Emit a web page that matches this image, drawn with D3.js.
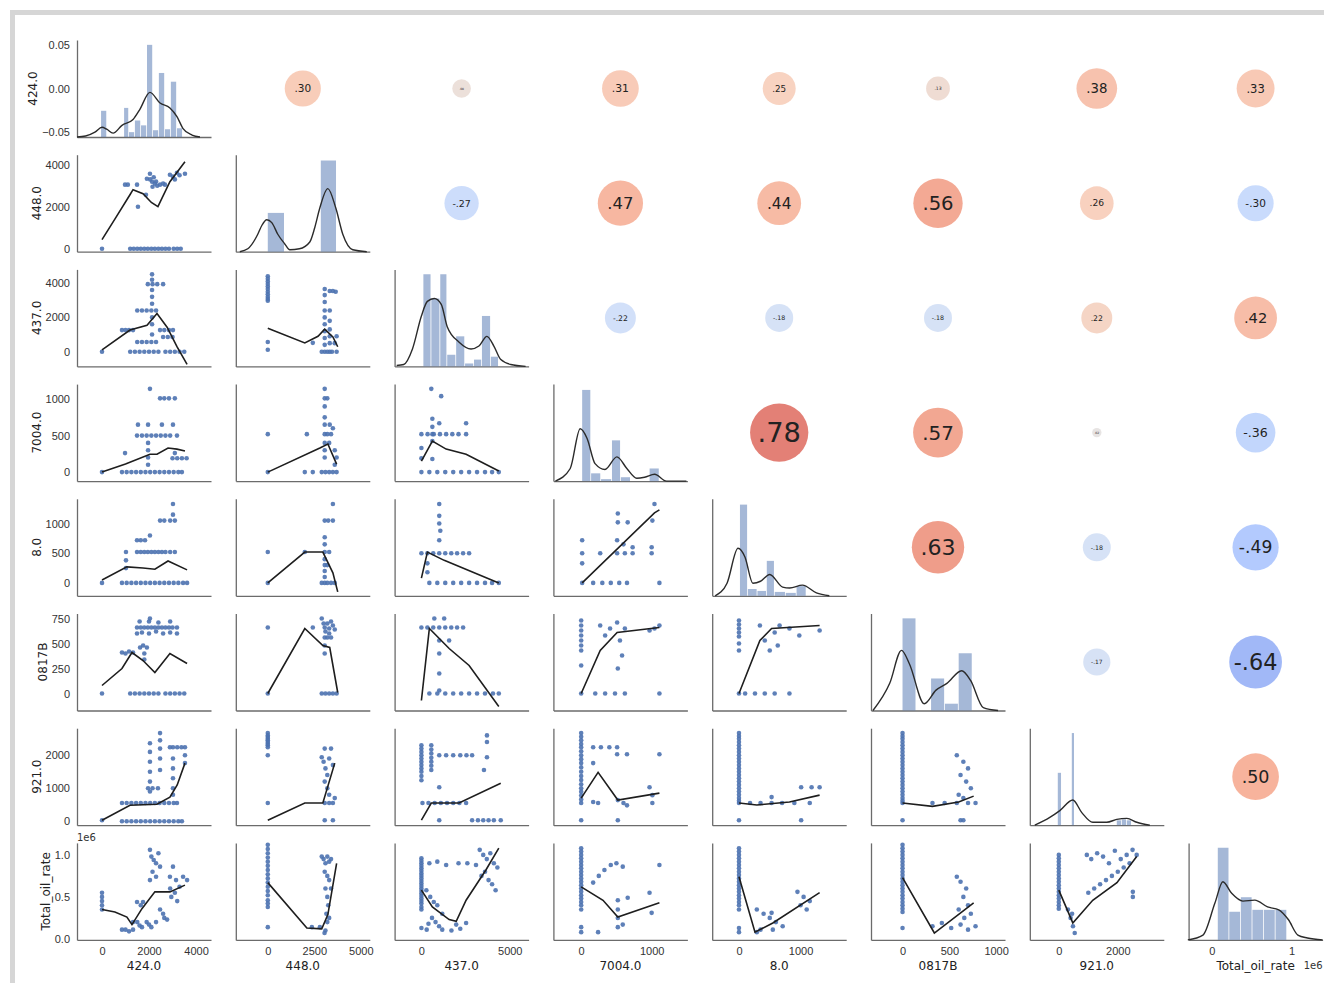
<!DOCTYPE html>
<html>
<head>
<meta charset="utf-8">
<script src="https://cdnjs.cloudflare.com/ajax/libs/d3/7.8.5/d3.min.js"></script>
<style>
body { margin: 0; background: #fff; }
svg { display: block; font-family: "DejaVu Sans", sans-serif; }
.domain { stroke: #6b6b6b; stroke-width: 1.3; }
.tick text { fill: #333; font-size: 11px; }
</style>
</head>
<body>
<svg id="chart" width="1324" height="983"></svg>
<script>
// variable names, in grid order
var varNames = ["424.0", "448.0", "437.0", "7004.0", "8.0", "0817B", "921.0", "Total_oil_rate"];

// axis ranges (Total_oil_rate in units of 1e6)
var xDomains = [[-1064, 4638], [-1720, 5484], [-1517, 6067], [-394, 1507],
                [-435, 1742], [-337, 1095], [-983, 3559], [-0.29, 1.39]];
var yDomains = [[-0.0557, 0.0557], [-143, 4476], [-857, 4800], [-123, 1205],
                [-217, 1417], [-170, 800], [-121, 2818], [-0.012, 1.143]];

var xTickVals = [[0, 2000, 4000], [0, 2500, 5000], [0, 5000], [0, 1000],
                 [0, 1000], [0, 500, 1000], [0, 2000], [0, 1]];
var yTickVals = [[0.05, 0, -0.05], [0, 2000, 4000], [0, 2000, 4000], [0, 500, 1000],
                 [0, 500, 1000], [0, 250, 500, 750], [0, 1000, 2000], [0, 0.5, 1]];
var yTickText = [["0.05", "0.00", "\u22120.05"], ["0", "2000", "4000"], ["0", "2000", "4000"],
                 ["0", "500", "1000"], ["0", "500", "1000"], ["0", "250", "500", "750"],
                 ["0", "1000", "2000"], ["0.0", "0.5", "1.0"]];

// correlations for the upper triangle: [row, col, r]
var corrVals = [
    [0, 1, 0.30], [0, 2, 0.08], [0, 3, 0.31], [0, 4, 0.25], [0, 5, 0.13], [0, 6, 0.38], [0, 7, 0.33],
    [1, 2, -0.27], [1, 3, 0.47], [1, 4, 0.44], [1, 5, 0.56], [1, 6, 0.26], [1, 7, -0.30],
    [2, 3, -0.22], [2, 4, -0.18], [2, 5, -0.18], [2, 6, 0.22], [2, 7, 0.42],
    [3, 4, 0.78], [3, 5, 0.57], [3, 6, 0.02], [3, 7, -0.36],
    [4, 5, 0.63], [4, 6, -0.18], [4, 7, -0.49],
    [5, 6, -0.17], [5, 7, -0.64],
    [6, 7, 0.50]
];

// diagonal histograms: [x0, x1, height as share of the panel]
var hist_0 = [[-40, 215, 0.27], [940, 1150, 0.30], [1150, 1400, 0.05], [1400, 1660, 0.17], [1660, 1915, 0.12],
              [1915, 2170, 0.95], [2170, 2420, 0.07], [2420, 2680, 0.66], [2680, 2930, 0.08], [2930, 3190, 0.57], [3190, 3440, 0.09]];
var hist_1 = [[0, 914, 0.40], [2850, 3710, 0.94]];
var hist_2 = [[112, 562, 0.95], [562, 1067, 0.70], [1067, 1461, 0.95], [1461, 1966, 0.12], [1966, 2472, 0.31],
              [2472, 2978, 0.03], [2978, 3427, 0.07], [3427, 3933, 0.52], [3933, 4382, 0.10]];
var hist_3 = [[14, 141, 0.94], [141, 282, 0.08], [282, 437, 0.02], [437, 563, 0.42], [563, 704, 0.04], [971, 1112, 0.13]];
var hist_4 = [[16, 145, 0.94], [145, 300, 0.07], [300, 452, 0.05], [452, 581, 0.36], [581, 760, 0.04], [760, 936, 0.03], [936, 1097, 0.10]];
var hist_5 = [[0, 147, 0.95], [305, 453, 0.33], [453, 600, 0.07], [600, 748, 0.59]];
var hist_6 = [[-34, 102, 0.54], [441, 542, 0.95], [1966, 2136, 0.05], [2136, 2305, 0.06], [2305, 2475, 0.05]];
var hist_7 = [[0.076, 0.22, 0.95], [0.22, 0.365, 0.29], [0.365, 0.51, 0.44], [0.51, 0.655, 0.31], [0.655, 0.80, 0.31], [0.80, 0.945, 0.31]];

// diagonal density curves: [x, height as share of the panel]
var kde_0 = [[-1064, 0], [-700, 0.01], [-300, 0.05], [0, 0.10], [200, 0.08], [470, 0.04], [850, 0.12], [1320, 0.18], [1600, 0.28],
             [2040, 0.46], [2470, 0.35], [2890, 0.30], [3190, 0.21], [3440, 0.09], [3830, 0.02], [4170, 0]];
var kde_1 = [[-1505, 0], [-1075, 0.03], [-538, 0.18], [-322, 0.27], [-54, 0.33], [215, 0.30], [537, 0.18], [914, 0.08], [1183, 0.02],
             [1700, 0.03], [2258, 0.10], [2527, 0.25], [2796, 0.45], [3226, 0.65], [3656, 0.45], [4032, 0.18], [4570, 0.02], [5322, 0]];
var kde_2 = [[-1400, 0.01], [-1000, 0.02], [-506, 0.18], [0, 0.52], [337, 0.67], [730, 0.70], [1124, 0.64], [1461, 0.41], [2135, 0.25],
             [2809, 0.18], [3258, 0.21], [3708, 0.31], [4101, 0.21], [4494, 0.07], [5056, 0.02], [5899, 0]];
var kde_3 = [[-366, 0], [-155, 0.13], [-14, 0.54], [84, 0.44], [197, 0.18], [338, 0.12], [507, 0.25], [648, 0.13], [788, 0.03],
             [900, 0.04], [1042, 0.07], [1211, 0], [1493, 0]];
var kde_4 = [[-387, 0], [-194, 0.13], [-16, 0.49], [97, 0.40], [226, 0.13], [350, 0.15], [500, 0.22], [710, 0.09], [823, 0.08],
             [1032, 0.11], [1258, 0.03], [1468, 0]];
var kde_5 = [[-316, 0], [-137, 0.28], [-11, 0.62], [74, 0.48], [232, 0.07], [358, 0.21], [474, 0.28], [632, 0.41], [727, 0.31],
             [863, 0.03], [1021, 0]];
var kde_6 = [[-814, 0], [-305, 0.08], [34, 0.15], [475, 0.26], [780, 0.13], [1153, 0.03], [1627, 0.03], [1966, 0.06], [2305, 0.07],
             [2644, 0.03], [3085, 0]];
var kde_7 = [[-0.30, 0], [-0.11, 0.05], [0.04, 0.38], [0.14, 0.60], [0.25, 0.48], [0.39, 0.40], [0.54, 0.41], [0.70, 0.34], [0.84, 0.31],
             [0.96, 0.21], [1.08, 0.05], [1.20, 0.02], [1.39, 0]];

// lower triangle scatter points [x, y] and smoothed fits, named pts_row_col / fit_row_col
var pts_1_0 = [[0, 0], [1200, 0], [1350, 0], [1500, 0], [1650, 0], [1800, 0], [1950, 0], [2100, 0], [2250, 0], [2400, 0], [2550, 0], [2700, 0],
               [2850, 0], [3050, 0], [3200, 0], [3350, 0], [980, 3050], [1100, 3050], [1490, 3050], [1530, 2000], [1870, 2570], [2040, 3570],
               [2130, 3190], [2250, 3100], [2050, 3300], [2200, 3400], [2350, 3000], [2470, 3050], [2600, 3100], [2680, 3050], [2890, 3520],
               [3020, 3430], [3190, 3620], [3300, 3500], [3530, 3570], [1910, 3330], [2300, 3200], [2150, 2950], [3100, 3300]];
var fit_1_0 = [[0, 430], [600, 1500], [1190, 2570], [1320, 2810], [1745, 2620], [2100, 2200], [2380, 2000], [2890, 3190], [3530, 4140]];

var pts_2_0 = [[0, 0], [1200, 0], [1400, 0], [1600, 0], [1800, 0], [2000, 0], [2200, 0], [2400, 0], [2700, 0], [2900, 0], [3100, 0], [3300, 0],
               [3500, 0], [1500, 570], [1700, 570], [1900, 570], [2100, 570], [2300, 570], [850, 1260], [1000, 1260], [1150, 1260], [1320, 1260],
               [2470, 1260], [2650, 1260], [2850, 1260], [3020, 1260], [2600, 860], [2800, 860], [3000, 860], [1500, 2400], [1700, 2400],
               [1900, 2400], [2100, 2400], [2300, 2400], [1950, 3940], [2150, 3940], [2350, 3940], [2600, 3940], [2130, 4510], [2130, 4200],
               [2130, 3600], [2130, 3200], [2130, 2800], [2130, 2000], [2130, 1600], [2130, 1000]];
var fit_2_0 = [[0, 110], [1190, 1260], [1915, 1540], [2340, 2230], [2770, 1430], [3190, 290], [3620, -740]];

var pts_3_0 = [[0, 0], [850, 0], [1050, 0], [1250, 0], [1450, 0], [1650, 0], [1850, 0], [2050, 0], [2250, 0], [2450, 0], [2650, 0], [2850, 0],
               [3050, 0], [3250, 0], [3400, 0], [1490, 500], [1700, 500], [1900, 500], [2100, 500], [2300, 500], [2500, 500], [2700, 500],
               [2900, 500], [3190, 500], [1530, 650], [1960, 650], [2550, 650], [3020, 650], [980, 260], [3000, 190], [3200, 190], [3400, 190],
               [3600, 190], [3100, 260], [2470, 1010], [2650, 1010], [2850, 1010], [3100, 1010], [2040, 1140], [1960, 400], [1960, 300],
               [1960, 200], [1960, 100]];
var fit_3_0 = [[0, 0], [1000, 110], [2040, 245], [2340, 245], [2810, 330], [3190, 315], [3530, 290]];

var pts_4_0 = [[0, 0], [850, 0], [1050, 0], [1250, 0], [1450, 0], [1650, 0], [1850, 0], [2050, 0], [2250, 0], [2450, 0], [2650, 0], [2850, 0],
               [3050, 0], [3250, 0], [3450, 0], [3620, 0], [1020, 520], [1020, 380], [1020, 250], [1490, 520], [1650, 520], [1800, 520],
               [1950, 520], [2100, 520], [2250, 520], [2400, 520], [2550, 520], [2700, 520], [2900, 520], [3100, 520], [1490, 720], [1650, 720],
               [1830, 720], [2040, 800], [2470, 1050], [2650, 1050], [2900, 1050], [3100, 1050], [3020, 1330], [3020, 1150]];
var fit_4_0 = [[0, 50], [1060, 270], [1745, 250], [2250, 230], [2810, 370], [3620, 220]];

var pts_5_0 = [[0, 0], [1200, 0], [1400, 0], [1600, 0], [1800, 0], [2000, 0], [2200, 0], [2400, 0], [2700, 0], [2900, 0], [3100, 0], [3300, 0],
               [3500, 0], [1490, 660], [1650, 660], [1800, 660], [1950, 660], [2100, 660], [2250, 660], [2400, 660], [2550, 660], [2700, 660],
               [2850, 660], [3000, 660], [3190, 660], [1490, 600], [1700, 610], [2000, 600], [2300, 620], [2600, 600], [2900, 610], [3190, 600],
               [1600, 720], [2000, 720], [2400, 710], [2900, 720], [2040, 750], [1620, 460], [1750, 480], [1910, 460], [1800, 400], [1800, 340],
               [850, 410], [1000, 400], [1150, 420], [1320, 410]];
var fit_5_0 = [[0, 80], [850, 250], [1275, 410], [1745, 330], [2250, 210], [2890, 400], [3620, 300]];

var pts_6_0 = [[0, 30], [850, 0], [1050, 0], [1250, 0], [1450, 0], [1650, 0], [1850, 0], [2050, 0], [2250, 0], [2450, 0], [2650, 0], [2850, 0],
               [3050, 0], [3250, 0], [3400, 0], [850, 550], [1050, 550], [1250, 550], [1450, 550], [1650, 550], [1850, 550], [2050, 550],
               [2250, 550], [2450, 550], [2650, 550], [2850, 550], [3050, 550], [3190, 550], [2040, 2360], [2040, 2100], [2040, 1800],
               [2040, 1500], [2040, 1200], [2040, 900], [2470, 2670], [2470, 2450], [2470, 2200], [2470, 1900], [2470, 1550], [3020, 2240],
               [3020, 1900], [3020, 1600], [3020, 1300], [3020, 1000], [3020, 800], [3530, 2240], [3530, 2000], [3530, 1760], [2890, 2240],
               [3200, 2240], [3380, 2240], [1960, 1000], [2150, 1000], [2380, 1000]];
var fit_6_0 = [[0, 30], [1190, 485], [2340, 515], [2890, 730], [3200, 1100], [3530, 1760]];

var pts_7_0 = [[0, 0.55], [0, 0.5], [0, 0.45], [0, 0.4], [0, 0.35], [850, 0.11], [1000, 0.11], [1150, 0.09], [1320, 0.11], [1320, 0.20],
               [1500, 0.20], [1700, 0.14], [1900, 0.20], [2100, 0.14], [2300, 0.20], [1600, 0.16], [2000, 0.17], [2040, 1.06], [2100, 0.98],
               [2200, 0.94], [2300, 0.90], [2400, 1.02], [2470, 0.86], [2150, 0.80], [2300, 0.74], [2040, 0.70], [1490, 0.44], [1745, 0.44],
               [1650, 0.40], [2470, 0.35], [2600, 0.30], [2770, 0.23], [2650, 0.25], [2890, 0.74], [3020, 0.86], [3150, 0.70], [3300, 0.62],
               [3450, 0.74], [3620, 0.70], [2950, 0.50], [3100, 0.55], [3200, 0.45], [2900, 0.60]];
var fit_7_0 = [[0, 0.35], [550, 0.32], [1060, 0.26], [1275, 0.17], [1700, 0.36], [2250, 0.56], [2890, 0.56], [3530, 0.64]];

var pts_2_1 = [[0, 4400], [0, 4250], [0, 4100], [0, 3950], [0, 3800], [0, 3650], [0, 3500], [0, 3350], [0, 3200], [0, 3080], [0, 2970],
               [0, 570], [0, 110], [2420, 515], [3060, 3660], [3060, 3300], [3060, 2900], [3060, 2400], [3060, 2000], [3060, 1600],
               [3060, 1200], [3060, 800], [3060, 400], [3060, 0], [3330, 3540], [3330, 2400], [3330, 1800], [3330, 1300], [3330, 900],
               [3330, 500], [3330, 0], [3500, 3540], [3650, 3500], [3700, 900], [3600, 500], [2900, 0], [3200, 0], [3450, 0], [3700, 0]];
var fit_2_1 = [[0, 1370], [1990, 515], [2700, 900], [3060, 1310], [3500, 860], [3760, 290]];

var pts_3_1 = [[0, 520], [0, 0], [2100, 520], [1990, 0], [2420, 0], [2900, 0], [3100, 0], [3300, 0], [3500, 0], [3700, 0], [3060, 1140],
               [3060, 1010], [3060, 900], [3060, 750], [3060, 650], [3060, 520], [3060, 400], [3060, 300], [3060, 200], [3200, 1010],
               [3330, 650], [3400, 520], [3200, 520], [3500, 600], [3300, 400], [3600, 300], [3700, 200], [3600, 100]];
var fit_3_1 = [[0, 0], [2800, 330], [3230, 385], [3700, 110]];

var pts_4_1 = [[0, 520], [0, 0], [1990, 520], [3060, 770], [3060, 650], [3060, 520], [3060, 400], [3060, 300], [3060, 200], [3060, 100],
               [3060, 0], [3060, 1050], [3250, 1050], [3500, 1050], [3500, 1330], [2900, 0], [3200, 0], [3400, 0], [3600, 0], [3300, 520],
               [3200, 300]];
var fit_4_1 = [[0, 0], [1990, 520], [2960, 520], [3500, 170], [3760, -150]];

var pts_5_1 = [[0, 660], [0, 0], [2420, 660], [2900, 750], [3000, 700], [3060, 660], [3100, 620], [3200, 700], [3300, 650], [3400, 720],
               [3500, 680], [3600, 640], [3060, 560], [3060, 480], [3060, 400], [3200, 560], [3300, 600], [3400, 560], [2900, 0], [3100, 0],
               [3300, 0], [3500, 0], [3700, 0]];
var fit_5_1 = [[0, 0], [1990, 650], [2960, 480], [3330, 460], [3760, 10]];

var pts_6_1 = [[0, 2670], [0, 2600], [0, 2550], [0, 2500], [0, 2450], [0, 2400], [0, 2350], [0, 2300], [0, 2240], [0, 2000], [0, 550],
               [2900, 1940], [3000, 1800], [3060, 2200], [3100, 1600], [3200, 1400], [3300, 1900], [3400, 2200], [3500, 1700], [3060, 1200],
               [3200, 1000], [3300, 800], [3060, 550], [3300, 550], [3500, 550], [3600, 700], [3060, 30], [3500, 30]];
var fit_6_1 = [[0, 30], [1990, 550], [2960, 550], [3600, 1760]];

var pts_7_1 = [[0, 1.12], [0, 1.07], [0, 1.02], [0, 0.97], [0, 0.92], [0, 0.87], [0, 0.82], [0, 0.77], [0, 0.72], [0, 0.67], [0, 0.62],
               [0, 0.57], [0, 0.52], [0, 0.46], [0, 0.42], [0, 0.38], [0, 0.14], [2370, 0.14], [2800, 0.14], [2900, 0.98], [3000, 0.95],
               [3100, 0.90], [3200, 0.98], [3300, 0.92], [3400, 0.95], [3060, 0.80], [3200, 0.75], [3300, 0.70], [3100, 0.60], [3200, 0.50],
               [3250, 0.40], [3150, 0.30], [3200, 0.20], [3100, 0.10], [3050, 0.07], [3300, 0.25], [3400, 0.60]];
var fit_7_1 = [[0, 0.67], [2100, 0.13], [2900, 0.12], [3230, 0.29], [3700, 0.9]];

var pts_3_2 = [[560, 1140], [1120, 1040], [620, 730], [620, 620], [620, 520], [620, 425], [0, 520], [350, 520], [700, 520], [1050, 520],
               [1400, 520], [1750, 520], [2100, 520], [2530, 520], [0, 330], [0, 190], [620, 180], [1010, 670], [2530, 670], [0, 0], [450, 0],
               [900, 0], [1350, 0], [1800, 0], [2250, 0], [2700, 0], [3150, 0], [3600, 0], [4000, 0], [4380, 0]];
var fit_3_2 = [[0, 150], [620, 425], [1400, 315], [2530, 245], [4380, 15]];

var pts_4_2 = [[1010, 1330], [1010, 1130], [1010, 1000], [1070, 880], [1010, 720], [0, 500], [340, 500], [670, 500], [1010, 500],
               [1350, 500], [1690, 500], [2020, 500], [2360, 500], [2700, 500], [340, 330], [340, 180], [450, 0], [900, 0], [1350, 0],
               [1800, 0], [2250, 0], [2700, 0], [3150, 0], [3600, 0], [4000, 0], [4380, 0]];
var fit_4_2 = [[0, 80], [340, 520], [1290, 380], [4380, 0]];

var pts_5_2 = [[0, 660], [340, 660], [670, 660], [1010, 660], [1350, 660], [1690, 660], [2020, 660], [2360, 660], [730, 750], [1290, 750],
               [1010, 530], [1570, 530], [1010, 400], [1010, 200], [1010, 30], [450, 0], [900, 0], [1350, 0], [1800, 0], [2250, 0], [2700, 0],
               [3150, 0], [3600, 0], [4050, 0], [4380, 0]];
var fit_5_2 = [[0, -70], [450, 650], [1570, 450], [2700, 280], [4380, -130]];

var pts_6_2 = [[0, 2300], [0, 2200], [0, 2100], [0, 2000], [0, 1900], [0, 1800], [0, 1700], [0, 1600], [0, 1500], [0, 1370], [0, 1240],
               [560, 2300], [560, 2170], [560, 2050], [560, 1920], [560, 1800], [560, 1680], [560, 1550],
               [1010, 2000], [1400, 2000], [1800, 2000], [2200, 2000], [2550, 2000], [2870, 2000], [3710, 2600], [3710, 2400], [3710, 1940],
               [3540, 1550], [60, 550], [400, 550], [750, 550], [1100, 550], [1450, 550], [1800, 550], [2150, 550], [2530, 550], [1010, 1030],
               [1010, 30], [2870, 30], [3200, 30], [3500, 30], [3800, 30], [4100, 30], [4490, 30]];
var fit_6_2 = [[0, 30], [560, 550], [2130, 550], [4490, 1150]];

var pts_7_2 = [[0, 0.96], [0, 0.93], [0, 0.90], [0, 0.87], [0, 0.84], [0, 0.81], [0, 0.78], [0, 0.75], [0, 0.72], [0, 0.69], [0, 0.66],
               [0, 0.63], [0, 0.60], [0, 0.57], [0, 0.54], [0, 0.51], [0, 0.48], [0, 0.45], [0, 0.42], [0, 0.38], [0, 0.35], [0, 0.13],
               [280, 0.58], [500, 0.50], [700, 0.44], [900, 0.40], [1180, 0.30], [600, 0.25], [800, 0.20], [1000, 0.15], [1180, 0.11],
               [400, 0.18], [300, 0.11], [1970, 0.17], [2530, 0.19], [1700, 0.10], [2200, 0.12], [450, 0.90], [900, 0.92], [1400, 0.88],
               [2100, 0.90], [2600, 0.90], [3090, 0.88], [3300, 1.06], [3500, 1.0], [3700, 0.95], [3900, 1.02], [4100, 0.9], [4300, 0.85],
               [3600, 0.80], [3800, 0.70], [4000, 0.65], [4200, 0.58], [3400, 0.75]];
var fit_7_2 = [[0, 0.58], [620, 0.38], [1570, 0.23], [1970, 0.21], [2530, 0.46], [3650, 0.82], [4380, 1.08]];

var pts_4_3 = [[14, 720], [14, 500], [14, 330], [14, 0], [270, 500], [520, 1170], [520, 1020], [660, 1020], [510, 720], [600, 650],
               [730, 600], [510, 500], [620, 500], [730, 500], [1000, 500], [1000, 600], [1040, 1330], [1010, 1050], [170, 0], [300, 0],
               [420, 0], [540, 0], [650, 0], [1110, 0]];
var fit_4_3 = [[14, 0], [1040, 1180], [1110, 1230]];

var pts_5_3 = [[0, 730], [0, 680], [0, 630], [0, 580], [0, 530], [0, 480], [0, 430], [0, 280], [0, 0], [270, 680], [340, 580], [410, 650],
               [510, 710], [550, 530], [580, 380], [520, 250], [620, 650], [970, 630], [1040, 650], [1110, 680], [200, 0], [340, 0],
               [480, 0], [620, 0], [1110, 0]];
var fit_5_3 = [[0, 0], [270, 430], [510, 610], [1110, 660]];

var pts_6_3 = [[0, 2670], [0, 2560], [0, 2450], [0, 2340], [0, 2240], [0, 2120], [0, 2000], [0, 1880], [0, 1760], [0, 1630], [0, 1500],
               [0, 1370], [0, 1250], [0, 1120], [0, 1000], [0, 890], [0, 780], [0, 660], [0, 550], [0, 30],
               [170, 2240], [280, 2240], [400, 2240], [510, 2240], [170, 1760], [170, 580], [240, 550], [510, 2030], [650, 2030], [520, 30],
               [520, 640], [600, 550], [650, 480], [970, 1030], [1010, 790], [1010, 550], [1110, 2030]];
var fit_6_3 = [[0, 700], [240, 1480], [520, 640], [1110, 850]];

var pts_7_3 = [[0, 1.08], [0, 1.04], [0, 1.0], [0, 0.96], [0, 0.92], [0, 0.88], [0, 0.84], [0, 0.80], [0, 0.76], [0, 0.72], [0, 0.68],
               [0, 0.64], [0, 0.60], [0, 0.56], [0, 0.52], [0, 0.48], [0, 0.44], [0, 0.40], [0, 0.35], [0, 0.14], [0, 0.08],
               [170, 0.67], [250, 0.75], [330, 0.82], [420, 0.88], [500, 0.90], [590, 0.86], [240, 0.08], [520, 0.46], [520, 0.35],
               [520, 0.25], [520, 0.14], [660, 0.49], [590, 0.17], [970, 0.55], [1000, 0.31], [1110, 0.88]];
var fit_7_3 = [[0, 0.62], [310, 0.46], [520, 0.26], [1110, 0.43]];

var pts_5_4 = [[0, 730], [0, 690], [0, 650], [0, 610], [0, 570], [0, 500], [0, 430], [0, 0], [340, 680], [420, 530], [500, 430], [580, 610],
               [630, 480], [660, 680], [820, 650], [980, 580], [1310, 630], [100, 0], [260, 0], [420, 0], [580, 0], [820, 0]];
var fit_5_4 = [[0, 0], [340, 530], [530, 650], [1310, 680]];

var pts_6_4 = [[0, 2670], [0, 2580], [0, 2500], [0, 2400], [0, 2300], [0, 2200], [0, 2100], [0, 2000], [0, 1900], [0, 1800], [0, 1700],
               [0, 1600], [0, 1500], [0, 1400], [0, 1300], [0, 1200], [0, 1100], [0, 1000], [0, 900], [0, 800], [0, 700], [0, 620], [0, 550],
               [0, 30], [180, 550], [350, 550], [530, 550], [700, 550], [900, 550], [1150, 550], [530, 730], [1010, 1030], [1180, 1030],
               [1310, 1030], [1010, 30]];
var fit_6_4 = [[0, 550], [290, 490], [820, 580], [1310, 790]];

var pts_7_4 = [[0, 1.08], [0, 1.04], [0, 1.0], [0, 0.96], [0, 0.92], [0, 0.88], [0, 0.84], [0, 0.80], [0, 0.76], [0, 0.72], [0, 0.68],
               [0, 0.64], [0, 0.60], [0, 0.56], [0, 0.52], [0, 0.48], [0, 0.44], [0, 0.40], [0, 0.35], [0, 0.13], [0, 0.08],
               [290, 0.35], [400, 0.30], [500, 0.25], [600, 0.20], [710, 0.15], [350, 0.11], [550, 0.11], [290, 0.08], [530, 0.31],
               [950, 0.56], [1050, 0.50], [1150, 0.45], [1000, 0.40], [1100, 0.35]];
var fit_7_4 = [[0, 0.74], [260, 0.08], [550, 0.19], [1310, 0.55]];

var pts_6_5 = [[0, 2670], [0, 2580], [0, 2500], [0, 2400], [0, 2300], [0, 2200], [0, 2100], [0, 2000], [0, 1900], [0, 1800], [0, 1700],
               [0, 1600], [0, 1500], [0, 1400], [0, 1300], [0, 1200], [0, 1100], [0, 1000], [0, 900], [0, 800], [0, 700], [0, 620], [0, 550],
               [0, 30], [320, 550], [450, 550], [580, 550], [700, 550], [780, 550], [580, 2000], [650, 1800], [700, 1600],
               [620, 1400], [680, 1200], [730, 1000], [600, 800], [650, 700], [620, 30], [650, 30]];
var fit_6_5 = [[0, 550], [320, 450], [600, 580], [760, 760]];

var pts_7_5 = [[0, 1.12], [0, 1.08], [0, 1.04], [0, 1.0], [0, 0.96], [0, 0.92], [0, 0.88], [0, 0.84], [0, 0.80], [0, 0.76], [0, 0.72],
               [0, 0.68], [0, 0.64], [0, 0.60], [0, 0.56], [0, 0.52], [0, 0.48], [0, 0.44], [0, 0.40], [0, 0.36], [0, 0.32], [0, 0.13],
               [320, 0.15], [420, 0.19], [520, 0.13], [620, 0.17], [700, 0.11], [780, 0.15], [580, 0.74], [620, 0.68], [680, 0.60],
               [650, 0.50], [700, 0.40], [600, 0.35], [730, 0.30], [660, 0.25]];
var fit_7_5 = [[0, 0.73], [340, 0.07], [760, 0.43]];

var pts_7_6 = [[0, 1.0], [0, 0.96], [0, 0.92], [0, 0.88], [0, 0.84], [0, 0.80], [0, 0.76], [0, 0.72], [0, 0.68], [0, 0.64], [0, 0.60],
               [0, 0.56], [0, 0.52], [0, 0.48], [0, 0.44], [0, 0.40], [0, 0.36], [310, 0.35], [400, 0.25],
               [480, 0.15], [540, 0.07], [450, 0.30], [950, 1.0], [1100, 0.95], [1300, 1.02], [1500, 0.98], [1700, 0.90], [1900, 1.05],
               [2100, 0.95], [2300, 1.0], [2500, 1.06], [2640, 1.0], [1200, 0.60], [1400, 0.65], [1600, 0.70], [1800, 0.75], [2000, 0.80],
               [2200, 0.85], [2400, 0.90], [2510, 0.56], [2510, 0.50], [1000, 0.55]];
var fit_7_6 = [[0, 0.58], [475, 0.19], [1150, 0.46], [1970, 0.67], [2640, 0.98]];

var diagHists = [hist_0, hist_1, hist_2, hist_3, hist_4, hist_5, hist_6, hist_7];
var diagKdes = [kde_0, kde_1, kde_2, kde_3, kde_4, kde_5, kde_6, kde_7];
var lowerCells = [
    [1, 0, pts_1_0, fit_1_0], [2, 0, pts_2_0, fit_2_0], [3, 0, pts_3_0, fit_3_0], [4, 0, pts_4_0, fit_4_0],
    [5, 0, pts_5_0, fit_5_0], [6, 0, pts_6_0, fit_6_0], [7, 0, pts_7_0, fit_7_0],
    [2, 1, pts_2_1, fit_2_1], [3, 1, pts_3_1, fit_3_1], [4, 1, pts_4_1, fit_4_1], [5, 1, pts_5_1, fit_5_1],
    [6, 1, pts_6_1, fit_6_1], [7, 1, pts_7_1, fit_7_1],
    [3, 2, pts_3_2, fit_3_2], [4, 2, pts_4_2, fit_4_2], [5, 2, pts_5_2, fit_5_2], [6, 2, pts_6_2, fit_6_2], [7, 2, pts_7_2, fit_7_2],
    [4, 3, pts_4_3, fit_4_3], [5, 3, pts_5_3, fit_5_3], [6, 3, pts_6_3, fit_6_3], [7, 3, pts_7_3, fit_7_3],
    [5, 4, pts_5_4, fit_5_4], [6, 4, pts_6_4, fit_6_4], [7, 4, pts_7_4, fit_7_4],
    [6, 5, pts_6_5, fit_6_5], [7, 5, pts_7_5, fit_7_5],
    [7, 6, pts_7_6, fit_7_6]
];

// grid geometry
var left0 = 77, colStep = 158.8, cellW = 134;
var bottom0 = 137, rowStep = 114.7, cellH = 97;
var dotColor = "#4c72b0";

var svg = d3.select("#chart");

// grey frame of the screenshot
svg.append("rect").attr("x", 10).attr("y", 10).attr("width", 1314).attr("height", 5).attr("fill", "#d6d6d6");
svg.append("rect").attr("x", 10).attr("y", 10).attr("width", 5).attr("height", 973).attr("fill", "#d6d6d6");

function colLeft(j) { return left0 + j * colStep; }
function rowBottom(i) { return bottom0 + i * rowStep; }

function xScale(j) {
    return d3.scaleLinear().domain(xDomains[j]).range([colLeft(j), colLeft(j) + cellW]);
}
function yScale(i) {
    return d3.scaleLinear().domain(yDomains[i]).range([rowBottom(i), rowBottom(i) - cellH]);
}
function fracScale(i) {
    return d3.scaleLinear().domain([0, 1]).range([rowBottom(i), rowBottom(i) - cellH]);
}

var coolwarm = d3.scaleLinear()
    .domain([-1, -0.75, -0.5, -0.25, 0, 0.25, 0.5, 0.75, 1])
    .range(["#3b4cc0", "#6282ea", "#8db0fe", "#b8d0f9", "#dddddd", "#f5c4ac", "#f49a7b", "#de604d", "#b40426"])
    .interpolate(d3.interpolateRgb);

// axes for diagonal + lower panels
for (var i = 0; i < 8; i++) {
    for (var j = 0; j <= i; j++) {
        var x = xScale(j), y = yScale(i);
        var xAxis = d3.axisBottom(x).tickSize(0).tickSizeOuter(0).tickPadding(7);
        if (i === 7) {
            xAxis.tickValues(xTickVals[j]).tickFormat(d3.format("d"));
        } else {
            xAxis.tickValues([]);
        }
        svg.append("g").attr("transform", "translate(0," + rowBottom(i) + ")").call(xAxis);

        var yAxis = d3.axisLeft(y).tickSize(0).tickSizeOuter(0).tickPadding(7);
        if (j === 0) {
            var labels = yTickText[i];
            yAxis.tickValues(yTickVals[i]).tickFormat(function (d, k) { return this.labels[k]; }.bind({labels: labels}));
        } else {
            yAxis.tickValues([]);
        }
        var yg = svg.append("g").attr("transform", "translate(" + colLeft(j) + ",0)").call(yAxis);

        if (j === 0) {
            var maxW = 0;
            yg.selectAll(".tick text").each(function () {
                maxW = Math.max(maxW, this.getComputedTextLength());
            });
            var lx = colLeft(0) - 7 - maxW - 5;
            svg.append("text")
                .attr("transform", "translate(" + lx + "," + (rowBottom(i) - cellH / 2) + ") rotate(-90)")
                .attr("text-anchor", "middle")
                .attr("font-size", 12)
                .attr("fill", "#222")
                .text(varNames[i]);
        }
    }
    // x labels under the bottom row
    svg.append("text")
        .attr("x", colLeft(i) + cellW / 2)
        .attr("y", 970)
        .attr("text-anchor", "middle")
        .attr("font-size", 12)
        .attr("fill", "#222")
        .text(varNames[i]);
}

// offset labels for the 1e6 axis
svg.append("text").attr("x", colLeft(0)).attr("y", 841).attr("font-size", 10).attr("fill", "#333").text("1e6");
svg.append("text").attr("x", colLeft(7) + cellW).attr("y", 969).attr("text-anchor", "end")
    .attr("font-size", 10).attr("fill", "#333").text("1e6");

// diagonal: histogram + density curve
diagHists.forEach(function (bins, k) {
    var x = xScale(k), f = fracScale(k);
    var g = svg.append("g");
    g.selectAll("rect").data(bins).enter().append("rect")
        .attr("x", function (d) { return x(d[0]); })
        .attr("width", function (d) { return Math.max(1, x(d[1]) - x(d[0]) - 0.8); })
        .attr("y", function (d) { return f(d[2]); })
        .attr("height", function (d) { return f(0) - f(d[2]); })
        .attr("fill", dotColor)
        .attr("fill-opacity", 0.5);
    var line = d3.line()
        .x(function (d) { return x(d[0]); })
        .y(function (d) { return f(d[1]); })
        .curve(d3.curveMonotoneX);
    g.append("path").datum(diagKdes[k])
        .attr("d", line)
        .attr("fill", "none")
        .attr("stroke", "#2b2b2b")
        .attr("stroke-width", 1.4);
});

// lower triangle: scatter + smooth fit
lowerCells.forEach(function (c) {
    var x = xScale(c[1]), y = yScale(c[0]);
    var g = svg.append("g");
    g.selectAll("circle").data(c[2]).enter().append("circle")
        .attr("cx", function (d) { return x(d[0]); })
        .attr("cy", function (d) { return y(d[1]); })
        .attr("r", 2.3)
        .attr("fill", dotColor)
        .attr("fill-opacity", 0.9);
    var line = d3.line()
        .x(function (d) { return x(d[0]); })
        .y(function (d) { return y(d[1]); });
    g.append("path").datum(c[3])
        .attr("d", line)
        .attr("fill", "none")
        .attr("stroke", "#1e1e1e")
        .attr("stroke-width", 1.6);
});

// upper triangle: correlation bubbles
var rScale = d3.scaleSqrt().domain([0, 1]).range([0, 33]);
corrVals.forEach(function (c) {
    var cx = colLeft(c[1]) + cellW / 2, cy = rowBottom(c[0]) - cellH / 2;
    var r = c[2];
    svg.append("circle")
        .attr("cx", cx).attr("cy", cy)
        .attr("r", rScale(Math.abs(r)))
        .attr("fill", coolwarm(r))
        .attr("fill-opacity", r < 0 ? 0.68 : 0.75);
    var label = d3.format(".2f")(Math.abs(r)).replace(/^0/, "");
    if (r < 0) label = "-" + label;
    svg.append("text")
        .attr("x", cx).attr("y", cy)
        .attr("dy", "0.35em")
        .attr("text-anchor", "middle")
        .attr("font-size", Math.max(3, 35 * Math.abs(r)))
        .attr("fill", "#222")
        .text(label);
});
</script>
</body>
</html>
